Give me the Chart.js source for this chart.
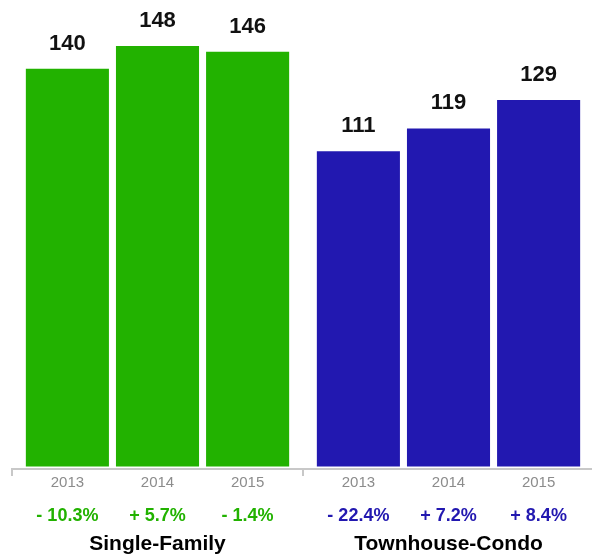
<!DOCTYPE html>
<html>
<head>
<meta charset="utf-8">
<script src="https://cdn.jsdelivr.net/npm/chart.js@4/dist/chart.umd.min.js"></script>
<style>
  html, body { margin: 0; padding: 0; background: #fff; overflow: hidden; }
  #wrap { position: relative; width: 596px; height: 556px; }
</style>
</head>
<body>
<div id="wrap"><canvas id="c"></canvas></div>
<script>
const groups = ['Single-Family', 'Townhouse-Condo'];
const years = ['2013', '2014', '2015'];
const singleFamily = [140, 148, 146];
const townhouseCondo = [111, 119, 129];
const singleFamilyChange = [-10.3, 5.7, -1.4];
const townhouseCondoChange = [-22.4, 7.2, 8.4];

const groupColors = ['#22b200', '#2218b0'];
const FONT = '"Liberation Sans", Arial, Helvetica, sans-serif';

// one dataset per year, each with a bar in both groups
const datasets = years.map((yr, i) => ({
  label: yr,
  data: [singleFamily[i], townhouseCondo[i]],
  backgroundColor: groupColors,
  borderWidth: 0,
  barPercentage: 0.922,
  categoryPercentage: 0.929
}));
const changes = [singleFamilyChange, townhouseCondoChange];
const fmtChange = v => (v < 0 ? '- ' : '+ ') + Math.abs(v).toFixed(1) + '%';

// value on top of each bar, year and yearly change under it, group name below
const labelsPlugin = {
  id: 'barLabels',
  afterDatasetsDraw(chart) {
    const ctx = chart.ctx;
    const axisY = chart.chartArea.bottom;
    ctx.save();
    ctx.textAlign = 'center';
    ctx.textBaseline = 'alphabetic';
    chart.data.datasets.forEach((ds, di) => {
      chart.getDatasetMeta(di).data.forEach((bar, gi) => {
        ctx.fillStyle = '#111';
        ctx.font = 'bold 22px ' + FONT;
        ctx.fillText(String(ds.data[gi]), bar.x, bar.y - 19);

        ctx.fillStyle = '#8c8c8c';
        ctx.font = '15px ' + FONT;
        ctx.fillText(ds.label, bar.x, axisY + 18);

        ctx.fillStyle = groupColors[gi];
        ctx.font = 'bold 18px ' + FONT;
        ctx.fillText(fmtChange(changes[gi][di]), bar.x, axisY + 52);
      });
    });
    const xScale = chart.scales.x;
    ctx.fillStyle = '#000';
    ctx.font = 'bold 21px ' + FONT;
    groups.forEach((g, gi) => {
      ctx.fillText(g, xScale.getPixelForValue(gi), axisY + 81);
    });
    ctx.restore();
  }
};

new Chart(document.getElementById('c'), {
  type: 'bar',
  data: { labels: groups, datasets },
  options: {
    responsive: true,
    maintainAspectRatio: false,
    animation: false,
    layout: { padding: { left: 12, right: 2, top: 0, bottom: 80 } },
    plugins: { legend: { display: false }, tooltip: { enabled: false } },
    scales: {
      x: {
        offset: true,
        grid: {
          offset: true,
          drawOnChartArea: false,
          drawTicks: true,
          tickLength: 7,
          color: '#c8c8c8',
          lineWidth: 2
        },
        border: { display: true, color: '#c8c8c8', width: 2 },
        ticks: { display: false }
      },
      y: {
        display: false,
        min: -0.9,
        max: 164.2
      }
    }
  },
  plugins: [labelsPlugin]
});
</script>
</body>
</html>
